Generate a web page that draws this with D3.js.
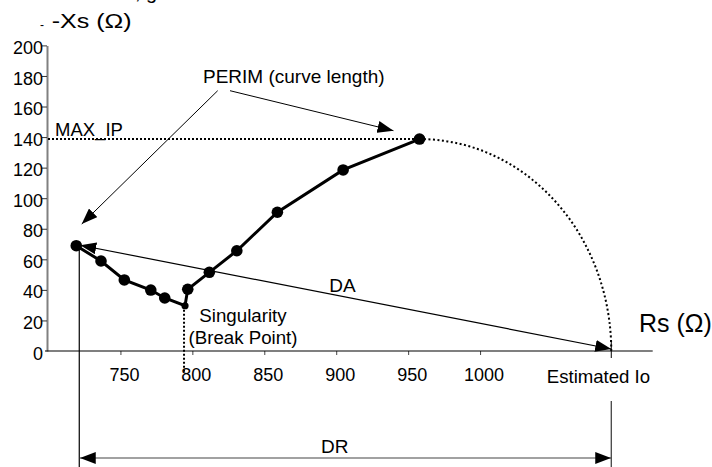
<!DOCTYPE html>
<html>
<head>
<meta charset="utf-8">
<script src="https://cdn.jsdelivr.net/npm/d3@7"></script>
<style>
  body { margin: 0; background: #fff; }
  text { font-family: "Liberation Sans", Arial, sans-serif; fill: #000; }
</style>
</head>
<body>
<script>
// measured points of the impedance curve (Rs, -Xs), ohms
const rsValues = [719.3, 736.5, 752.7, 771.1, 780.8, 794.9, 796.8, 811.8, 830.9, 859.1, 904.8, 957.9]
const xsValues = [68.9, 58.9, 46.5, 39.9, 34.7, 29.6, 40.4, 51.5, 65.6, 90.8, 118.5, 138.7]
const breakIndex = 5          // singularity (break point), drawn small
const estimatedIo = 1091.2    // where the extrapolated arc meets the Rs axis

const xTicks = [750, 800, 850, 900, 950, 1000]
const yTicks = [0, 20, 40, 60, 80, 100, 120, 140, 160, 180, 200]

// pointer targets for the PERIM arrows (data units)
const perimLeftTarget = [723.1, 83.1]
const perimRightTarget = [939.8, 144.2]

let m = { width: 712, height: 467 }

let svg = d3.select('body')
  .append('svg')
  .attr('width', m.width)
  .attr('height', m.height)

let data = rsValues.map(function(r, i) { return { rs: r, xs: xsValues[i] } })

let x = d3.scaleLinear().domain([700, 1120]).range([48.5, 652.7])
let y = d3.scaleLinear().domain([0, 200]).range([351, 45.4])

// arrow marker
svg.append('defs').append('marker')
  .attr('id', 'arrow')
  .attr('markerUnits', 'userSpaceOnUse')
  .attr('markerWidth', 16)
  .attr('markerHeight', 12)
  .attr('refX', 16)
  .attr('refY', 6)
  .attr('orient', 'auto-start-reverse')
  .append('path')
  .attr('d', 'M0,0 L16,6 L0,12 Z')
  .attr('fill', '#000')

// clipped text left over from the page above
svg.append('text').attr('x', 135).attr('y', -1).style('font-size', '20px').text(', g')

// axis titles
svg.append('text').attr('x', 40).attr('y', 28.5).style('font-size', '12px').text('-')
svg.append('text').attr('x', 51.7).attr('y', 28.3).style('font-size', '21px')
  .attr('textLength', 80).attr('lengthAdjust', 'spacingAndGlyphs').text('-Xs (Ω)')
svg.append('text').attr('x', 639).attr('y', 331.7).style('font-size', '25px').text('Rs (Ω)')

// y axis
let yAxis = d3.axisLeft(y).tickValues(yTicks).tickSize(5).tickPadding(-1).tickSizeOuter(0)
let gy = svg.append('g').attr('transform', 'translate(47,0)').call(yAxis)
gy.select('.domain').attr('stroke', '#808080').attr('stroke-width', 2)
gy.selectAll('.tick line').attr('stroke', '#333')
gy.selectAll('.tick text')
  .attr('dy', '0.45em')
  .style('font-size', '18px')
  .style('font-family', '"Liberation Sans", Arial, sans-serif')
  .attr('fill', '#000')
gy.selectAll('.tick').filter(function(d) { return d === 0 }).select('line').remove()

// x axis
let xAxis = d3.axisBottom(x).tickValues(xTicks).tickFormat(d3.format('d'))
  .tickSize(4).tickPadding(13).tickSizeOuter(0)
let gx = svg.append('g').attr('transform', 'translate(0,' + y(0) + ')').call(xAxis)
gx.select('.domain').remove()
gx.selectAll('.tick line').attr('stroke', '#444')
gx.selectAll('.tick text')
  .attr('dx', 3.5)
  .style('font-size', '18px')
  .style('font-family', '"Liberation Sans", Arial, sans-serif')
  .attr('fill', '#000')
svg.append('line')
  .attr('x1', 45).attr('x2', x.range()[1])
  .attr('y1', y(0)).attr('y2', y(0))
  .attr('stroke', '#000').attr('stroke-width', 1.2)

// Io tick on the axis
svg.append('line')
  .attr('x1', x(estimatedIo)).attr('x2', x(estimatedIo))
  .attr('y1', y(0) - 10).attr('y2', y(0) + 7)
  .attr('stroke', '#000')
svg.append('text').attr('x', x(estimatedIo) - 64.5).attr('y', 383)
  .style('font-size', '18.6px').text('Estimated Io')

let last = data[data.length - 1]
let first = data[0]
let brk = data[breakIndex]

// MAX_IP dotted line
svg.append('line')
  .attr('x1', 48).attr('x2', x(last.rs))
  .attr('y1', y(last.xs)).attr('y2', y(last.xs))
  .attr('stroke', '#000').attr('stroke-width', 2).attr('stroke-dasharray', '2,2')
svg.append('text').attr('x', 55).attr('y', 136).style('font-size', '18.5px').text('MAX_IP')

// dotted extrapolation arc (quarter ellipse) from last point down to Io
let rx = x(estimatedIo) - x(last.rs)
let ry = y(0) - y(last.xs)
svg.append('path')
  .attr('d', 'M' + x(last.rs) + ',' + y(last.xs) + ' A' + rx + ',' + ry + ' 0 0 1 ' + x(estimatedIo) + ',' + y(0))
  .attr('fill', 'none').attr('stroke', '#000').attr('stroke-width', 2).attr('stroke-dasharray', '2,2.5')

// dotted drop line under the singularity
svg.append('line')
  .attr('x1', x(brk.rs) - 1).attr('x2', x(brk.rs) - 1)
  .attr('y1', y(brk.xs)).attr('y2', 372)
  .attr('stroke', '#000').attr('stroke-width', 2).attr('stroke-dasharray', '2,2')

// DA double arrow
svg.append('line')
  .attr('x1', x(first.rs) + 4).attr('y1', y(first.xs) - 0.5)
  .attr('x2', x(estimatedIo)).attr('y2', y(0) - 2)
  .attr('stroke', '#000').attr('stroke-width', 1.2)
  .attr('marker-start', 'url(#arrow)').attr('marker-end', 'url(#arrow)')
svg.append('text').attr('x', 329.3).attr('y', 291.7).style('font-size', '19px').text('DA')

// DR dimension
let drY = 458
svg.append('line')
  .attr('x1', x(first.rs) + 3).attr('x2', x(first.rs) + 3)
  .attr('y1', y(first.xs)).attr('y2', m.height)
  .attr('stroke', '#000').attr('stroke-width', 1.2)
svg.append('line')
  .attr('x1', x(estimatedIo)).attr('x2', x(estimatedIo))
  .attr('y1', 401).attr('y2', m.height)
  .attr('stroke', '#333').attr('stroke-width', 1.2)
svg.append('line')
  .attr('x1', x(first.rs) + 3.5).attr('x2', x(estimatedIo))
  .attr('y1', drY).attr('y2', drY)
  .attr('stroke', '#444').attr('stroke-width', 1.2)
  .attr('marker-start', 'url(#arrow)').attr('marker-end', 'url(#arrow)')
svg.append('text').attr('x', 321).attr('y', 453).style('font-size', '19px').text('DR')

// PERIM label and pointers
svg.append('text').attr('x', 203).attr('y', 83.3).style('font-size', '19px').text('PERIM (curve length)')
svg.append('line')
  .attr('x1', 217.7).attr('y1', 90.7)
  .attr('x2', x(perimLeftTarget[0])).attr('y2', y(perimLeftTarget[1]))
  .attr('stroke', '#000').attr('stroke-width', 1)
  .attr('marker-end', 'url(#arrow)')
svg.append('line')
  .attr('x1', 230).attr('y1', 90.7)
  .attr('x2', x(perimRightTarget[0])).attr('y2', y(perimRightTarget[1]))
  .attr('stroke', '#000').attr('stroke-width', 1)
  .attr('marker-end', 'url(#arrow)')

// the curve
let line = d3.line()
  .x(function(d) { return x(d.rs) })
  .y(function(d) { return y(d.xs) })
svg.append('path')
  .datum(data)
  .attr('d', line)
  .attr('fill', 'none').attr('stroke', '#000').attr('stroke-width', 3)

svg.selectAll('circle.pt')
  .data(data)
  .enter()
  .append('circle')
    .attr('class', 'pt')
    .attr('cx', function(d) { return x(d.rs) })
    .attr('cy', function(d) { return y(d.xs) })
    .attr('r', function(d, i) { return i === breakIndex ? 3.6 : 5.8 })
    .attr('fill', '#000')

// singularity label
svg.append('text').attr('x', 243).attr('y', 321.7).attr('text-anchor', 'middle')
  .style('font-size', '18.7px').text('Singularity')
svg.append('text').attr('x', 243).attr('y', 344.3).attr('text-anchor', 'middle')
  .style('font-size', '18.7px').text('(Break Point)')
</script>
</body>
</html>
